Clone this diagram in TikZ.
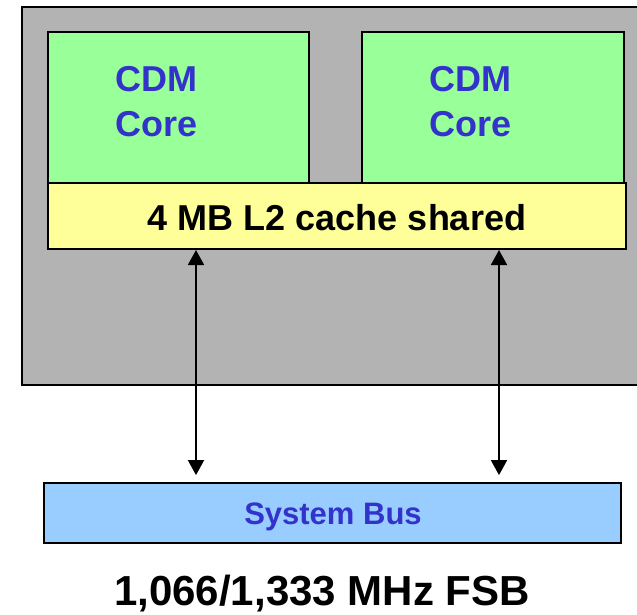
\documentclass[tikz,border=0pt]{standalone}
\usepackage{fontspec}
\setmainfont{Liberation Sans}
\usetikzlibrary{arrows.meta}
\definecolor{chipgray}{RGB}{179,179,179}
\definecolor{coregreen}{RGB}{153,255,153}
\definecolor{cacheyellow}{RGB}{255,255,153}
\definecolor{busblue}{RGB}{153,204,255}
\definecolor{textblue}{RGB}{51,51,204}
\tikzset{
  box/.style={draw=black, line width=2pt, inner sep=0pt, rectangle},
  coretext/.style={text=textblue, font=\bfseries\fontsize{36}{45}\selectfont, align=left, inner sep=0pt, anchor=north west},
  link/.style={line width=1.8pt, {Triangle[length=15pt,width=16pt]}-{Triangle[length=15pt,width=16pt]}}
}
\begin{document}
\begin{tikzpicture}[x=1pt,y=-1pt]
\useasboundingbox (0,0) rectangle (637,614);
\node[box, fill=chipgray, minimum width=618pt, minimum height=378pt] (chip) at (331,196) {};
\node[box, fill=coregreen, minimum width=261pt, minimum height=151pt] (core1) at (178.5,107.5) {};
\node[box, fill=coregreen, minimum width=262pt, minimum height=151pt] (core2) at (493,107.5) {};
\node[box, fill=cacheyellow, minimum width=578pt, minimum height=65.5pt] (cache) at (337,215.75) {};
\node[anchor=base, inner sep=0pt, font=\bfseries\fontsize{36}{45}\selectfont] (cachelbl) at (337,230) {4 MB L2 cache shared};
\node[coretext] (c1lbl) at (115,66.5) {CDM\\Core};
\node[coretext] (c2lbl) at (429,66.5) {CDM\\Core};
\node[box, line width=1.8pt, fill=busblue, minimum width=577pt, minimum height=60pt] (bus) at (332.5,513) {};
\node[anchor=base, inner sep=0pt, text=textblue, font=\bfseries\fontsize{31}{36}\selectfont] (buslbl) at (333,524) {System Bus};
\node[anchor=base, inner sep=0pt, font=\bfseries\fontsize{42}{48}\selectfont] (fsb) at (322,605) {1,066/1,333 MHz FSB};
\coordinate (x1) at (196,0);
\coordinate (x2) at (499,0);
\draw[link, shorten <=0.5pt, shorten >=7pt] (cache.south -| x1) -- (bus.north -| x1);
\draw[link, shorten <=0.5pt, shorten >=7pt] (cache.south -| x2) -- (bus.north -| x2);
\end{tikzpicture}
\end{document}
